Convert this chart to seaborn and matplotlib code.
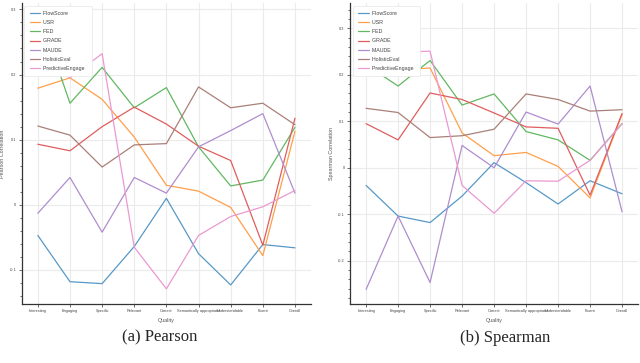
import numpy as np
import pandas as pd
import seaborn as sns
import matplotlib
matplotlib.use("Agg")
import matplotlib.pyplot as plt
from matplotlib.ticker import AutoMinorLocator, FuncFormatter, MultipleLocator

qualities = ["Interesting", "Engaging", "Specific", "Relevant", "Correct",
             "Semantically appropriate", "Understandable", "Fluent", "Overall"]
metrics = ["FlowScore", "USR", "FED", "GRADE", "MAUDE", "HolisticEval", "PredictiveEngage"]

# Pearson correlations
p_flowscore = [-0.047, -0.118, -0.121, -0.064, 0.010, -0.075, -0.123, -0.061, -0.066]
p_usr = [0.179, 0.195, 0.162, 0.104, 0.030, 0.021, -0.004, -0.078, 0.113]
p_fed = [0.300, 0.156, 0.211, 0.149, 0.180, 0.089, 0.029, 0.038, 0.119]
p_grade = [0.093, 0.083, 0.120, 0.150, 0.124, 0.090, 0.068, -0.062, 0.133]
p_maude = [-0.013, 0.042, -0.042, 0.042, 0.018, 0.089, 0.114, 0.140, 0.018]
p_holistic = [0.121, 0.107, 0.058, 0.092, 0.094, 0.181, 0.149, 0.156, 0.123]
p_predictive = [0.240, 0.195, 0.232, -0.065, -0.129, -0.047, -0.018, -0.003, 0.022]

# Spearman correlations
s_flowscore = [-0.038, -0.104, -0.118, -0.061, 0.011, -0.032, -0.078, -0.028, -0.056]
s_usr = [0.200, 0.210, 0.215, 0.075, 0.026, 0.033, 0.003, -0.065, 0.115]
s_fed = [0.222, 0.176, 0.231, 0.135, 0.159, 0.078, 0.060, 0.016, 0.095]
s_grade = [0.095, 0.060, 0.161, 0.147, 0.118, 0.088, 0.085, -0.059, 0.117]
s_maude = [-0.262, -0.104, -0.247, 0.048, 0.000, 0.120, 0.094, 0.176, -0.095]
s_holistic = [0.128, 0.119, 0.065, 0.069, 0.083, 0.159, 0.147, 0.122, 0.125]
s_predictive = [0.270, 0.249, 0.251, -0.038, -0.098, -0.028, -0.029, 0.016, 0.095]

pearson = [p_flowscore, p_usr, p_fed, p_grade, p_maude, p_holistic, p_predictive]
spearman = [s_flowscore, s_usr, s_fed, s_grade, s_maude, s_holistic, s_predictive]


def long_df(series):
    rows = []
    for name, vals in zip(metrics, series):
        for q, v in zip(qualities, vals):
            rows.append({"Quality": q, "Metric": name, "Correlation": v})
    return pd.DataFrame(rows)


sns.set_style("whitegrid", {"grid.color": "#ebebeb", "axes.edgecolor": "#333333",
                            "xtick.bottom": True, "ytick.left": True})
plt.rcParams["font.family"] = ["Liberation Sans", "DejaVu Sans"]

fig = plt.figure(figsize=(6.4, 3.63), dpi=100)
ax1 = fig.add_axes([0.034, 0.163, 0.452, 0.829])
ax2 = fig.add_axes([0.547, 0.163, 0.450, 0.829])

# tab10, washed out a little towards white
base = np.array(sns.color_palette("tab10", 7))
palette = [tuple(c) for c in base * 0.75 + 0.25]

panels = [(ax1, pearson, "Pearson Correlation", (-0.152, 0.31)),
          (ax2, spearman, "Spearman Correlation", (-0.293, 0.355))]

for ax, series, ylabel, ylim in panels:
    df = long_df(series)
    sns.lineplot(data=df, x="Quality", y="Correlation", hue="Metric",
                 hue_order=metrics, palette=palette, sort=False,
                 linewidth=0.9, ax=ax)
    ax.set_xlim(-0.5, 8.5)
    ax.set_ylim(*ylim)
    ax.yaxis.set_major_locator(MultipleLocator(0.1))
    ax.yaxis.set_minor_locator(AutoMinorLocator(5))
    ax.yaxis.set_major_formatter(FuncFormatter(lambda v, _: f"{round(v, 2):g}"))
    ax.tick_params(axis="both", which="major", labelsize=2.8, length=2,
                   width=0.5, pad=2, colors="#333333", labelcolor="#444444")
    ax.tick_params(axis="y", which="minor", length=1.5, width=0.5,
                   left=True, colors="#333333")
    ax.set_xlabel("Quality", fontsize=3.9, color="#555555", labelpad=3)
    ax.set_ylabel(ylabel, fontsize=3.9, color="#555555", labelpad=3)
    for s in ["left", "bottom"]:
        ax.spines[s].set_linewidth(0.9)
    sns.despine(ax=ax)
    ax.grid(True, which="major", linewidth=0.8)
    leg = ax.legend(loc="upper left", fontsize=3.8, frameon=True,
                    labelspacing=0.8, handlelength=2.0, handletextpad=0.6,
                    borderpad=1.0, borderaxespad=0.5)
    leg.get_frame().set_edgecolor("#e6e6e6")
    leg.get_frame().set_linewidth(0.5)
    leg.get_frame().set_alpha(1.0)
    for text in leg.get_texts():
        text.set_color("#444444")
        text.set_text(text.get_text() + " ")
    for line in leg.get_lines():
        line.set_linewidth(0.9)

fig.text(0.25, 0.07, "(a) Pearson", ha="center", va="center",
         fontsize=12, family="Liberation Serif")
fig.text(0.79, 0.07, "(b) Spearman", ha="center", va="center",
         fontsize=12, family="Liberation Serif")

fig.savefig("out.png", dpi=100)
